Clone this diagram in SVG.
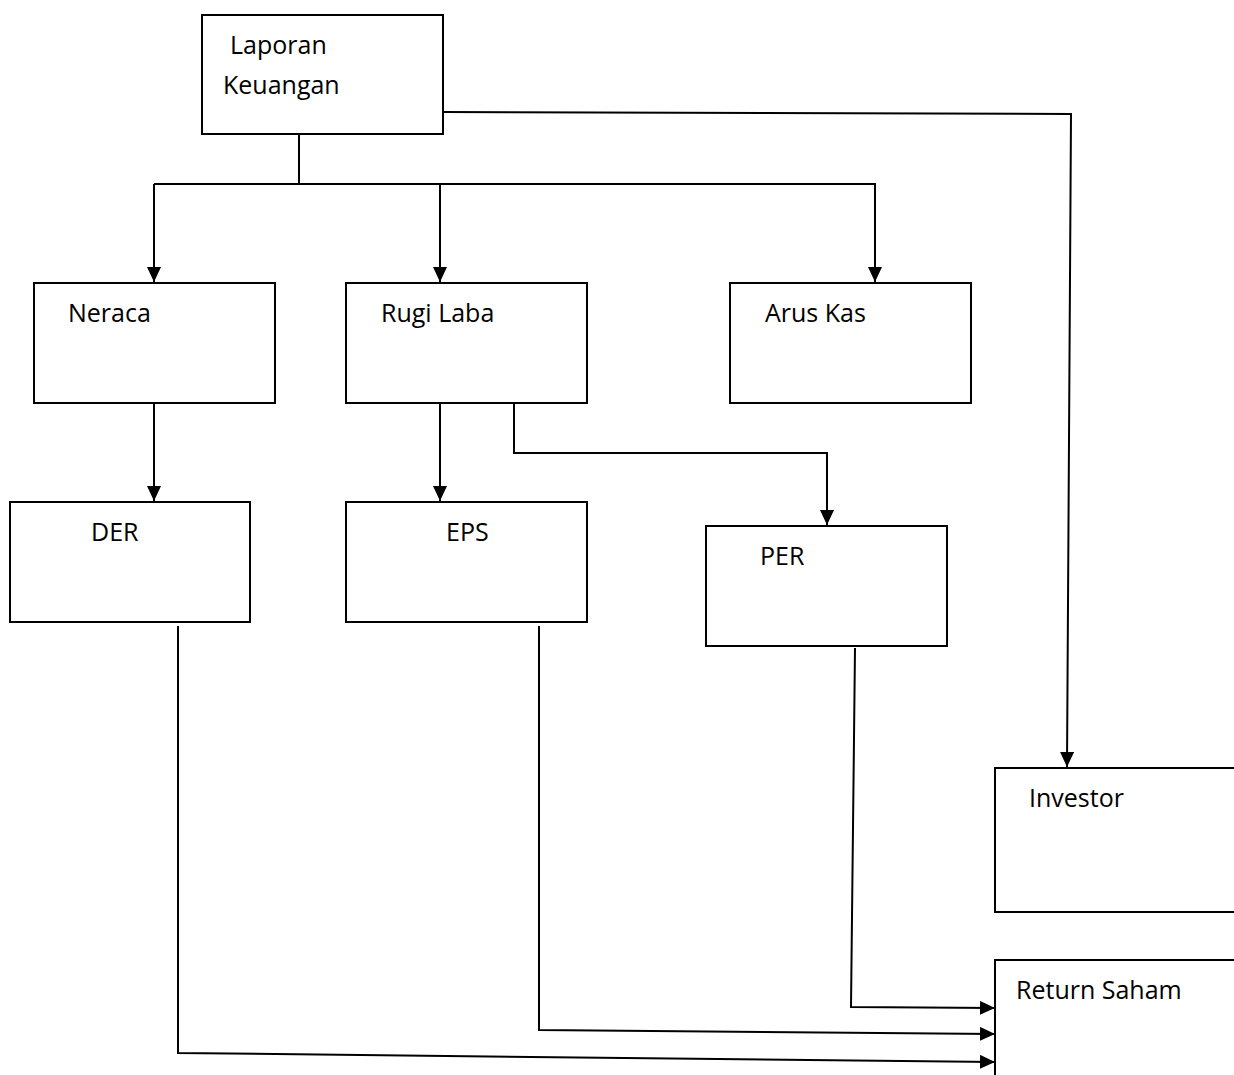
<svg xmlns="http://www.w3.org/2000/svg" width="1234" height="1075" viewBox="0 0 1234 1075">
<style>
.box{fill:#fff;stroke:#000;stroke-width:2}
.lbl{font-family:"Open Sans","Liberation Sans",sans-serif;font-size:25px;fill:#000}
.ln{fill:none;stroke:#000;stroke-width:2}
</style>
<defs>
<marker id="ah" markerWidth="16" markerHeight="14" refX="15" refY="7" orient="auto" markerUnits="userSpaceOnUse">
<path d="M0,0 L15,7 L0,14 Z" fill="#000"/>
</marker>
</defs>
<rect width="1234" height="1075" fill="#fff"/>
<g id="connectors">
<path class="ln" d="M443,112 L1071,114 L1067,767" marker-end="url(#ah)"/>
<path class="ln" d="M299,134 L299,184"/>
<path class="ln" d="M154,184 L876,184"/>
<path class="ln" d="M154,184 L154,282" marker-end="url(#ah)"/>
<path class="ln" d="M440,184 L440,282" marker-end="url(#ah)"/>
<path class="ln" d="M875,184 L875,282" marker-end="url(#ah)"/>
<path class="ln" d="M154,403 L154,501" marker-end="url(#ah)"/>
<path class="ln" d="M440,403 L440,501" marker-end="url(#ah)"/>
<path class="ln" d="M514,403 L514,453 L827,453 L827,525" marker-end="url(#ah)"/>
<path class="ln" d="M178,626 L178,1053 L995,1062" marker-end="url(#ah)"/>
<path class="ln" d="M539,626 L539,1030 L995,1034" marker-end="url(#ah)"/>
<path class="ln" d="M855,648 L851,1007 L995,1008" marker-end="url(#ah)"/>
</g>
<g id="laporan">
<rect class="box" x="202" y="15" width="241" height="119"/>
<text class="lbl" x="230" y="54">Laporan</text>
<text class="lbl" x="223" y="94">Keuangan</text>
</g>
<g id="neraca">
<rect class="box" x="34" y="283" width="241" height="120"/>
<text class="lbl" x="68" y="322">Neraca</text>
</g>
<g id="rugilaba">
<rect class="box" x="346" y="283" width="241" height="120"/>
<text class="lbl" x="381" y="322">Rugi Laba</text>
</g>
<g id="aruskas">
<rect class="box" x="730" y="283" width="241" height="120"/>
<text class="lbl" x="765" y="322">Arus Kas</text>
</g>
<g id="der">
<rect class="box" x="10" y="502" width="240" height="120"/>
<text class="lbl" x="91" y="541">DER</text>
</g>
<g id="eps">
<rect class="box" x="346" y="502" width="241" height="120"/>
<text class="lbl" x="446" y="541">EPS</text>
</g>
<g id="per">
<rect class="box" x="706" y="526" width="241" height="120"/>
<text class="lbl" x="760" y="565">PER</text>
</g>
<g id="investor">
<rect class="box" x="995" y="768" width="240" height="144"/>
<text class="lbl" x="1029" y="807">Investor</text>
</g>
<g id="returnsaham">
<rect class="box" x="995" y="960" width="240" height="120"/>
<text class="lbl" x="1016" y="999">Return Saham</text>
</g>
</svg>
